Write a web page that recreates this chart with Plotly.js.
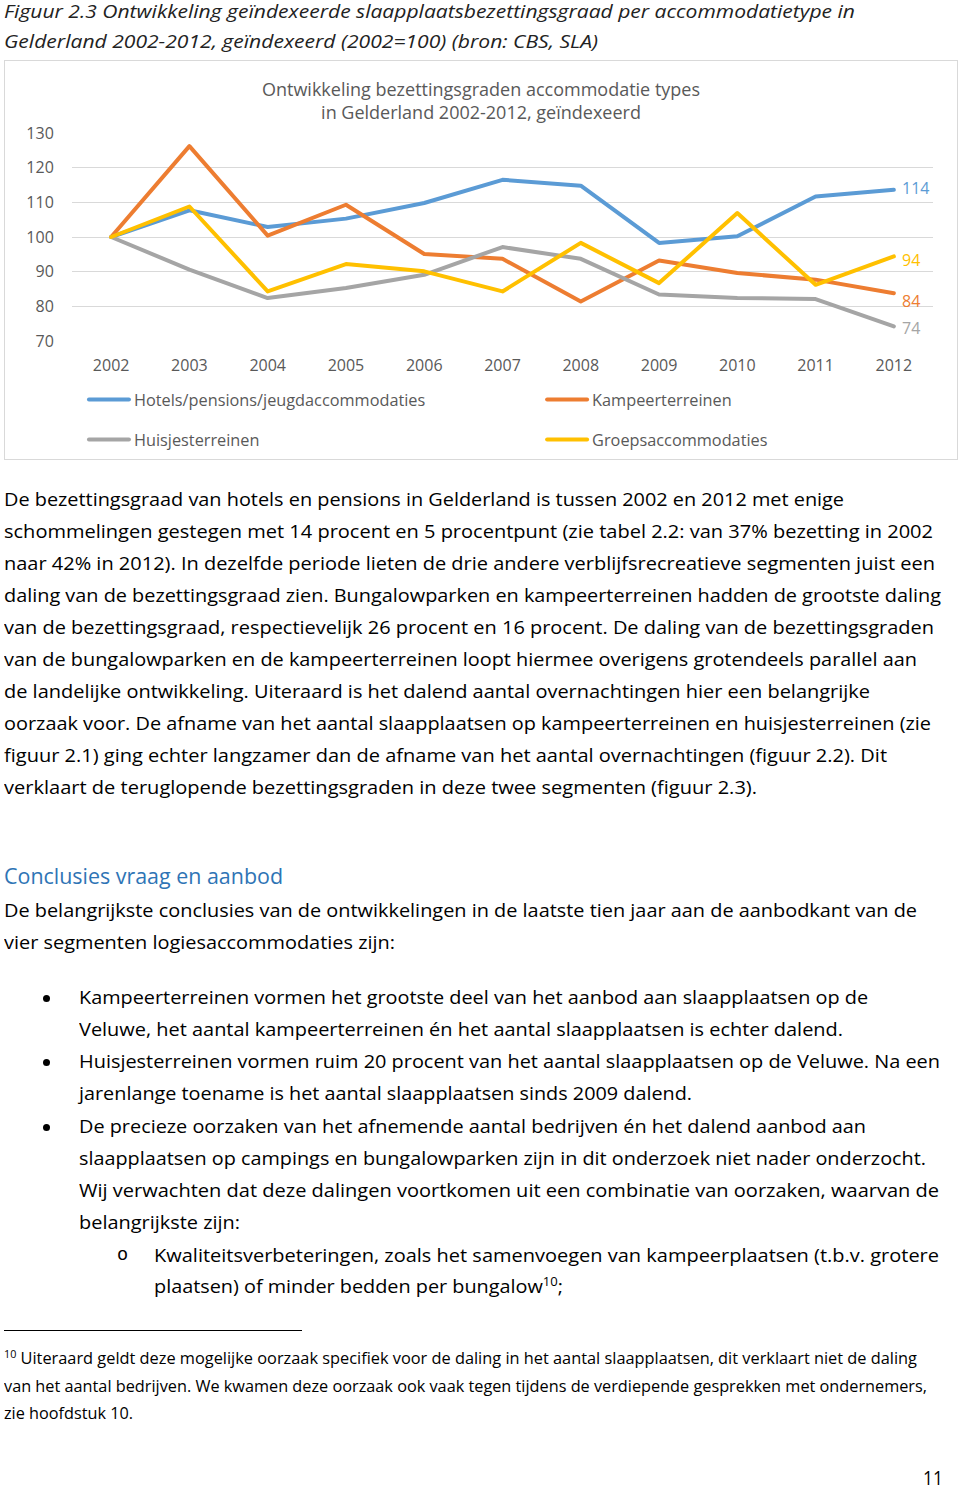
<!DOCTYPE html>
<html>
<head>
<meta charset="utf-8">
<script src="https://cdn.plot.ly/plotly-3.0.1.min.js"></script>
<style>
  html, body { margin:0; padding:0; background:#fff; }
  body { width:960px; height:1489px; position:relative; overflow:hidden; font-family:"Open Sans", sans-serif; color:#000; }
  .ln { position:absolute; white-space:nowrap; line-height:0.8; transform-origin:0 0; }
  .ln sup { font-size:0.66em; vertical-align:0.55em; line-height:0; }
  .dot { position:absolute; width:7px; height:7px; border-radius:50%; background:#000; }
  #chart { position:absolute; left:4px; top:60px; width:954px; height:400px; box-sizing:border-box; border:1px solid #d9d9d9; background:#fff; }
  #chart path.js-line { stroke-linejoin:round !important; stroke-linecap:round !important; }
  #rule { position:absolute; left:4px; top:1330px; width:298px; height:0; border-top:1.3px solid #000; }
</style>
</head>
<body>
<div id="chart"></div>
<div id="rule"></div>
<div id="text"></div>
<script>
// ---------- chart data ----------
const years = [2002, 2003, 2004, 2005, 2006, 2007, 2008, 2009, 2010, 2011, 2012];
const yearLabels = ['2002','2003','2004','2005','2006','2007','2008','2009','2010','2011','2012'];
const yTicks = [70, 80, 90, 100, 110, 120, 130];
const seriesNames = ['Hotels/pensions/jeugdaccommodaties', 'Kampeerterreinen', 'Huisjesterreinen', 'Groepsaccommodaties'];
const hotels  = [100, 107.7, 102.9, 105.3, 109.8, 116.5, 114.8, 98.3, 100.2, 111.7, 113.6];
const kampeer = [100, 126.2, 100.4, 109.3, 95.1, 93.7, 81.4, 93.2, 89.6, 87.7, 83.8];
const huisjes = [100, 90.6, 82.4, 85.3, 89.1, 97.1, 93.7, 83.4, 82.4, 82.1, 74.2];
const groeps  = [100, 108.8, 84.3, 92.2, 90.1, 84.3, 98.3, 86.7, 106.9, 86.2, 94.4];
const chartTitle = 'Ontwikkeling bezettingsgraden accommodatie types<br>in Gelderland 2002-2012, geïndexeerd';

// ---------- styles ----------
const colors = ['#5B9BD5', '#ED7D31', '#A5A5A5', '#FFC000'];
const legendIds = ['legend', 'legend2', 'legend3', 'legend4'];
const legendX = [0.0139, 0.546, 0.0139, 0.546];
const legendY = [-0.2837, -0.2837, -0.476, -0.476];
const labelShift = [2, -8, -2, -4];
const allSeries = [hotels, kampeer, huisjes, groeps];

const traces = allSeries.map((vals, i) => ({
  type: 'scatter', mode: 'lines', x: years, y: vals, name: seriesNames[i],
  line: { color: colors[i], width: 4 }, legend: legendIds[i], hoverinfo: 'skip'
}));

const annotations = allSeries.map((vals, i) => ({
  x: years[years.length - 1], y: vals[vals.length - 1], xref: 'x', yref: 'y',
  text: String(Math.round(vals[vals.length - 1])), showarrow: false,
  xanchor: 'left', yanchor: 'middle', xshift: 6, yshift: labelShift[i],
  font: { family: 'Open Sans', size: 16, color: colors[i] }
}));

const layout = {
  width: 952, height: 398,
  margin: { l: 67, r: 24, t: 72, b: 118, autoexpand: false },
  paper_bgcolor: '#fff', plot_bgcolor: '#fff',
  font: { family: 'Open Sans', size: 16, color: '#595959' },
  title: { text: chartTitle, x: 0.5, xref: 'container', xanchor: 'center',
           y: 0.912, yref: 'container', yanchor: 'top',
           font: { family: 'Open Sans', size: 18, color: '#595959' } },
  xaxis: { range: [2001.5, 2012.5], tickmode: 'array', tickvals: years, ticktext: yearLabels,
           showgrid: false, zeroline: false, showline: false,
           ticks: 'outside', ticklen: 10, tickcolor: 'rgba(0,0,0,0)',
           tickfont: { size: 16, color: '#595959' } },
  yaxis: { range: [70, 130], tickmode: 'array', tickvals: yTicks, ticktext: yTicks.map(String),
           showgrid: true, gridcolor: '#d9d9d9', gridwidth: 1, zeroline: false, showline: false,
           ticks: 'outside', ticklen: 14, tickcolor: 'rgba(0,0,0,0)',
           tickfont: { size: 16, color: '#595959' } },
  showlegend: true,
  annotations: annotations
};
legendIds.forEach((id, i) => {
  layout[id] = {
    orientation: 'h', xanchor: 'left', yanchor: 'middle', x: legendX[i], y: legendY[i],
    itemwidth: 40, bgcolor: 'rgba(0,0,0,0)',
    font: { family: 'Open Sans', size: 16.3, color: '#595959' }
  };
});

Plotly.newPlot('chart', traces, layout, { staticPlot: true, displayModeBar: false });

// ---------- page text ----------
// [html, left x, visual centre y, right end x, font size, extra style]
const B = 18.5, F = 15.5;
const lines = [
  ['Figuur 2.3 Ontwikkeling geïndexeerde slaapplaatsbezettingsgraad per accommodatietype in', 4, 12, 855, B, 'font-style:italic;color:#222'],
  ['Gelderland 2002-2012, geïndexeerd (2002=100) (bron: CBS, SLA)', 4, 42, 598, B, 'font-style:italic;color:#222'],
  ['De bezettingsgraad van hotels en pensions in Gelderland is tussen 2002 en 2012 met enige', 4, 500, 844, B, ''],
  ['schommelingen gestegen met 14 procent en 5 procentpunt (zie tabel 2.2: van 37% bezetting in 2002', 4, 532, 933, B, ''],
  ['naar 42% in 2012). In dezelfde periode lieten de drie andere verblijfsrecreatieve segmenten juist een', 4, 564, 935, B, ''],
  ['daling van de bezettingsgraad zien. Bungalowparken en kampeerterreinen hadden de grootste daling', 4, 596, 941, B, ''],
  ['van de bezettingsgraad, respectievelijk 26 procent en 16 procent. De daling van de bezettingsgraden', 4, 628, 934, B, ''],
  ['van de bungalowparken en de kampeerterreinen loopt hiermee overigens grotendeels parallel aan', 4, 660, 917, B, ''],
  ['de landelijke ontwikkeling. Uiteraard is het dalend aantal overnachtingen hier een belangrijke', 4, 692, 870, B, ''],
  ['oorzaak voor. De afname van het aantal slaapplaatsen op kampeerterreinen en huisjesterreinen (zie', 4, 724, 931, B, ''],
  ['figuur 2.1) ging echter langzamer dan de afname van het aantal overnachtingen (figuur 2.2). Dit', 4, 756, 887, B, ''],
  ['verklaart de teruglopende bezettingsgraden in deze twee segmenten (figuur 2.3).', 4, 788, 757, B, ''],
  ['Conclusies vraag en aanbod', 4, 877, 283, 21, 'color:#2E74B5'],
  ['De belangrijkste conclusies van de ontwikkelingen in de laatste tien jaar aan de aanbodkant van de', 4, 911, 917, B, ''],
  ['vier segmenten logiesaccommodaties zijn:', 4, 943, 395, B, ''],
  ['Kampeerterreinen vormen het grootste deel van het aanbod aan slaapplaatsen op de', 79, 998, 868, B, ''],
  ['Veluwe, het aantal kampeerterreinen én het aantal slaapplaatsen is echter dalend.', 79, 1030, 843, B, ''],
  ['Huisjesterreinen vormen ruim 20 procent van het aantal slaapplaatsen op de Veluwe. Na een', 79, 1062, 940, B, ''],
  ['jarenlange toename is het aantal slaapplaatsen sinds 2009 dalend.', 79, 1094, 692, B, ''],
  ['De precieze oorzaken van het afnemende aantal bedrijven én het dalend aanbod aan', 79, 1127, 866, B, ''],
  ['slaapplaatsen op campings en bungalowparken zijn in dit onderzoek niet nader onderzocht.', 79, 1159, 926, B, ''],
  ['Wij verwachten dat deze dalingen voortkomen uit een combinatie van oorzaken, waarvan de', 79, 1191, 939, B, ''],
  ['belangrijkste zijn:', 79, 1223, 240, B, ''],
  ['Kwaliteitsverbeteringen, zoals het samenvoegen van kampeerplaatsen (t.b.v. grotere', 154, 1256, 939, B, ''],
  ['plaatsen) of minder bedden per bungalow<sup>10</sup>;', 154, 1287, 563, B, ''],
  ['<sup>10</sup> Uiteraard geldt deze mogelijke oorzaak specifiek voor de daling in het aantal slaapplaatsen, dit verklaart niet de daling', 4, 1359, 917, F, ''],
  ['van het aantal bedrijven. We kwamen deze oorzaak ook vaak tegen tijdens de verdiepende gesprekken met ondernemers,', 4, 1387, 927, F, ''],
  ['zie hoofdstuk 10.', 4, 1414, 133, F, ''],
  ['11', 923, 1479, 943, 20, '']
];
const dots = [[46.5, 998], [46.5, 1062], [46.5, 1127]];
const subMarks = [['o', 117, 1257, B]];

const host = document.getElementById('text');
const fitList = [];
const topFor = (yc, fs) => (yc - 0.431 * fs).toFixed(1);
lines.forEach(([html, x, yc, xe, fs, st]) => {
  const d = document.createElement('div');
  d.className = 'ln';
  d.innerHTML = html;
  d.style.cssText = `left:${x}px;top:${topFor(yc, fs)}px;font-size:${fs}px;${st}`;
  host.appendChild(d);
  fitList.push([d, xe - x]);
});
dots.forEach(([cx, cy]) => {
  const d = document.createElement('div');
  d.className = 'dot';
  d.style.left = (cx - 3.5) + 'px';
  d.style.top = (cy - 3.5) + 'px';
  host.appendChild(d);
});
subMarks.forEach(([t, x, yc, fs]) => {
  const d = document.createElement('div');
  d.className = 'ln';
  d.textContent = t;
  d.style.cssText = `left:${x}px;top:${topFor(yc, fs)}px;font-size:${fs}px;font-family:'Liberation Mono','DejaVu Sans Mono',monospace;`;
  host.appendChild(d);
});
function fit() {
  fitList.forEach(([d, w]) => {
    d.style.transform = 'none';
    const nat = d.getBoundingClientRect().width;
    if (nat > 0) d.style.transform = `scaleX(${(w / nat).toFixed(4)})`;
  });
}
fit();
if (document.fonts && document.fonts.ready) document.fonts.ready.then(fit);
</script>
</body>
</html>
